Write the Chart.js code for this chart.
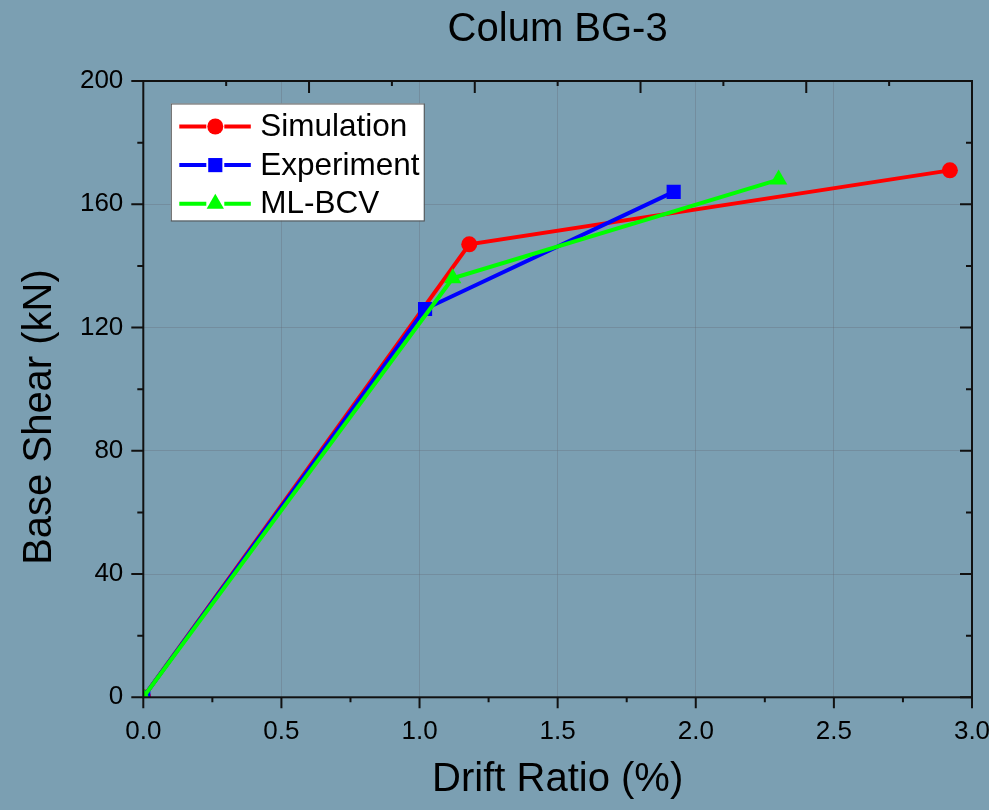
<!DOCTYPE html>
<html>
<head>
<meta charset="utf-8">
<title>Colum BG-3</title>
<script src="https://cdn.jsdelivr.net/npm/chart.js@4.4.1/dist/chart.umd.min.js"></script>
<style>
  html, body { margin: 0; padding: 0; background: #7b9fb2; }
</style>
</head>
<body>
<canvas id="myChart" width="989" height="810"></canvas>
<script>
// series data: drift ratio (%) vs base shear (kN)
const seriesNames = ["Simulation", "Experiment", "ML-BCV"];
const simDrift = [0, 1.18, 2.92];
const simShear = [0, 147, 171];
const expDrift = [0, 1.02, 1.92];
const expShear = [0, 126, 164];
const mlDrift = [0, 1.12, 2.3];
const mlShear = [0, 136, 168];

const FONT = "'Liberation Sans', Arial, Helvetica, sans-serif";

// turn two arrays into {x, y} points
function toPoints(xs, ys) {
  return xs.map((v, i) => ({ x: v, y: ys[i] }));
}

// plot frame plus Origin-style tick marks on all four sides
const frameTicks = {
  id: "frameTicks",
  afterDatasetsDraw(chart) {
    const { ctx, chartArea: a, scales } = chart;
    const xs = scales.x;
    const ys = scales.y;
    ctx.save();
    ctx.strokeStyle = "#111";
    ctx.lineWidth = 2;
    ctx.strokeRect(a.left, a.top, a.right - a.left, a.bottom - a.top);
    ctx.beginPath();
    // bottom: major every 0.5, minor in between, pointing out
    for (let i = 0; i <= 12; i++) {
      const px = xs.getPixelForValue(i * 0.25);
      const len = i % 2 === 0 ? 11 : 5;
      ctx.moveTo(px, a.bottom);
      ctx.lineTo(px, a.bottom + len);
    }
    // top: every 0.3, pointing in
    for (let i = 1; i <= 9; i++) {
      const px = xs.getPixelForValue(i * 0.3);
      const len = i % 2 === 0 ? 12 : 5;
      ctx.moveTo(px, a.top);
      ctx.lineTo(px, a.top + len);
    }
    // left out, right in, every 20 kN
    for (let i = 0; i <= 10; i++) {
      const py = ys.getPixelForValue(i * 20);
      const len = i % 2 === 0 ? 12 : 6;
      ctx.moveTo(a.left, py);
      ctx.lineTo(a.left - len, py);
      ctx.moveTo(a.right, py);
      ctx.lineTo(a.right - len, py);
    }
    ctx.stroke();

    // y axis title
    ctx.translate(40, 417);
    ctx.rotate(-Math.PI / 2);
    ctx.fillStyle = "#000";
    ctx.font = "40px " + FONT;
    ctx.textAlign = "center";
    ctx.textBaseline = "middle";
    ctx.fillText("Base Shear (kN)", 0, 0);
    ctx.restore();
  },
};

// boxed legend inside the plot, top-left
const boxLegend = {
  id: "boxLegend",
  afterDraw(chart) {
    const { ctx, chartArea: a } = chart;
    const left = a.left + 27.5;
    const top = a.top + 22.5;
    ctx.save();
    ctx.fillStyle = "#fff";
    ctx.fillRect(left, top, 253, 117);
    ctx.strokeStyle = "#555";
    ctx.lineWidth = 1;
    ctx.strokeRect(left + 0.5, top + 0.5, 253, 117);

    chart.data.datasets.forEach((ds, i) => {
      const cy = top + 23 + i * 38.6;
      const mx = left + 44.5;
      ctx.strokeStyle = ds.borderColor;
      ctx.lineWidth = 4;
      ctx.beginPath();
      ctx.moveTo(left + 8.5, cy);
      ctx.lineTo(mx - 9, cy);
      ctx.moveTo(mx + 9, cy);
      ctx.lineTo(left + 80, cy);
      ctx.stroke();
      ctx.fillStyle = ds.pointBackgroundColor;
      Chart.helpers.drawPoint(ctx, {
        pointStyle: ds.pointStyle,
        radius: ds.pointRadius,
        rotation: 0,
        borderWidth: 0,
      }, mx, cy);
      ctx.fillStyle = "#000";
      ctx.font = "31.5px " + FONT;
      ctx.textAlign = "left";
      ctx.textBaseline = "middle";
      ctx.fillText(ds.label, left + 89.5, cy + 1);
    });
    ctx.restore();
  },
};

function makeSet(label, xs, ys, color, style, radius, order) {
  return {
    label: label,
    data: toPoints(xs, ys),
    borderColor: color,
    backgroundColor: color,
    pointBackgroundColor: color,
    pointBorderWidth: 0,
    pointStyle: style,
    pointRadius: radius,
    pointHoverRadius: radius,
    borderWidth: 4,
    tension: 0,
    order: order,
  };
}

const ctx = document.getElementById("myChart").getContext("2d");

const myChart = new Chart(ctx, {
  type: "line",
  data: {
    datasets: [
      makeSet(seriesNames[0], simDrift, simShear, "#ff0000", "circle", 8, 2),
      makeSet(seriesNames[1], expDrift, expShear, "#0000ff", "rect", 10, 1),
      makeSet(seriesNames[2], mlDrift, mlShear, "#00ff00", "triangle", 10, 0),
    ],
  },
  options: {
    responsive: false,
    animation: false,
    layout: { padding: { left: 0, right: 17, top: 0, bottom: 0 } },
    plugins: {
      legend: { display: false },
      tooltip: { enabled: false },
      title: {
        display: true,
        text: "Colum BG-3",
        color: "#000",
        fullSize: false,
        font: { family: FONT, size: 40, weight: "normal" },
        padding: { top: 6, bottom: 27 },
      },
    },
    scales: {
      x: {
        type: "linear",
        min: 0,
        max: 3,
        border: { display: false },
        grid: { color: "rgba(100, 110, 120, 0.35)", lineWidth: 1, drawTicks: false },
        ticks: {
          stepSize: 0.5,
          color: "#000",
          padding: 19,
          font: { family: FONT, size: 26 },
          callback: (v) => v.toFixed(1),
        },
        title: {
          display: true,
          text: "Drift Ratio (%)",
          color: "#000",
          font: { family: FONT, size: 40 },
          padding: { top: 0, bottom: 6 },
        },
        afterFit(scale) {
          scale.height = 112.7;
          scale.paddingLeft = 0;
          scale.paddingRight = 0;
        },
      },
      y: {
        type: "linear",
        min: 0,
        max: 200,
        border: { display: false },
        grid: { color: "rgba(100, 110, 120, 0.35)", lineWidth: 1, drawTicks: false },
        ticks: {
          stepSize: 40,
          color: "#000",
          padding: 20,
          font: { family: FONT, size: 26 },
        },
        afterFit(scale) {
          scale.width = 143.3;
          scale.paddingTop = 0;
          scale.paddingBottom = 0;
        },
      },
    },
  },
  plugins: [frameTicks, boxLegend],
});
</script>
</body>
</html>
